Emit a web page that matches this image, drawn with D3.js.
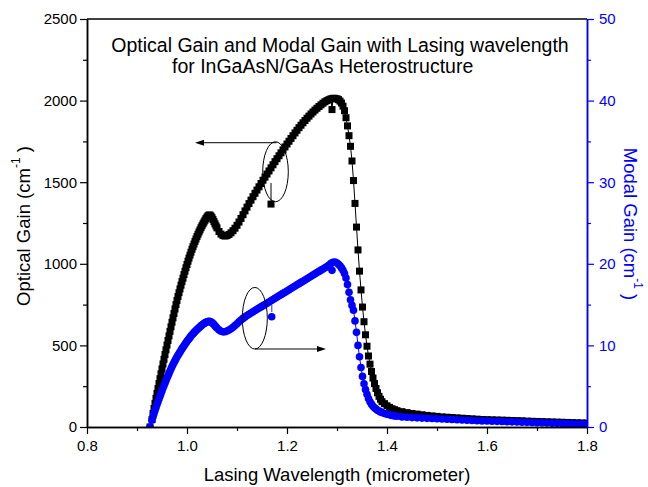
<!DOCTYPE html>
<html><head><meta charset="utf-8">
<script src="https://cdn.jsdelivr.net/npm/d3@7"></script>
<style>body{margin:0;background:#fff} svg{display:block} text{font-family:"Liberation Sans",Arial,sans-serif}</style>
</head><body><svg id="c" width="648" height="487"></svg>
<script>
// ---------------- data ----------------
const wavelength = [
0.926,0.930,0.932,0.934,0.936,0.938,0.940,0.942,0.944,0.946,0.948,0.950,0.952,0.954,0.956,0.958,0.960,0.962,0.964,0.966,0.968,0.970,0.972,0.974,0.976,0.978,0.980,0.982,0.984,0.986,0.988,0.990,0.992,0.994,0.996,0.998,1.000,1.002,1.004,1.006,1.008,1.010,1.012,1.014,1.016,1.018,1.020,1.022,1.024,1.026,1.028,1.030,1.032,1.034,1.036,1.038,1.040,1.042,1.044,1.046,1.048,1.050,1.052,1.054,1.056,1.058,1.060,
1.064,1.068,1.072,1.076,1.080,1.084,1.088,1.092,1.096,1.100,1.104,1.108,1.112,1.116,1.120,1.124,1.128,1.132,1.136,1.140,1.144,1.148,1.152,1.156,1.160,1.164,1.168,1.172,1.176,1.180,1.184,1.188,1.192,1.196,1.200,1.204,1.208,1.212,1.216,1.220,1.224,1.228,1.232,1.236,1.240,1.244,1.248,1.252,1.256,1.260,1.264,1.268,1.272,1.276,1.280,1.284,1.288,1.290,1.292,1.296,1.300,
1.303,1.306,1.309,1.312,1.315,1.318,1.321,1.324,1.327,1.330,1.333,1.336,1.339,1.342,1.345,1.348,1.351,1.354,1.357,1.360,1.363,1.366,1.369,1.372,1.375,1.378,1.381,1.384,1.387,1.390,
1.395,1.400,1.405,1.410,1.415,1.420,
1.43,1.44,1.45,1.46,1.47,1.48,1.49,1.50,1.51,1.52,1.53,1.54,1.55,1.56,1.57,1.58,1.59,1.60,1.61,1.62,1.63,1.64,1.65,1.66,1.67,1.68,1.69,1.70,1.71,1.72,1.73,1.74,1.75,1.76,1.77,1.78,1.79,1.80
];
const opticalGain = [
0,45,82,114,145,176,206,236,266,296,326,356,386,415,444,473,502,530,558,586,614,642,669,696,723,750,776,800,823,846,869,891,912,934,955,976,996,1016,1035,1053,1071,1089,1105,1121,1137,1152,1167,1181,1195,1208,1221,1233,1245,1256,1267,1277,1286,1294,1299,1298,1292,1283,1271,1258,1245,1232,1220,
1198,1182,1173,1170,1173,1180,1190,1203,1218,1236,1256,1278,1301,1324,1347,1369,1390,1411,1432,1452,1472,1492,1512,1531,1550,1569,1588,1607,1626,1644,1662,1680,1698,1716,1734,1751,1768,1785,1802,1818,1834,1849,1864,1878,1892,1905,1918,1930,1942,1953,1964,1974,1984,1993,2000,2006,2011,1945,2014,2014,2011,
2006,1997,1985,1966,1938,1895,1845,1785,1720,1630,1510,1370,1225,1085,955,840,735,645,565,495,435,385,340,300,266,236,210,188,170,155,
143,130,120,112,106,100,
94,88,83,79,75,71,68,65,62,60,58,56,54,52,50,48,46,45,44,43,42,41,40,39,38,36,35,34,33,32,31,30,29,28,27,26,25,24
];
const modalGain = [
0,0.85,1.25,1.65,2.02,2.39,2.75,3.10,3.44,3.78,4.12,4.45,4.77,5.08,5.39,5.70,6.00,6.29,6.57,6.85,7.13,7.40,7.65,7.89,8.13,8.37,8.60,8.80,9.00,9.20,9.40,9.60,9.78,9.96,10.14,10.32,10.50,10.66,10.82,10.98,11.14,11.30,11.43,11.56,11.69,11.82,11.95,12.06,12.17,12.28,12.39,12.50,12.59,12.68,12.76,12.83,12.89,12.93,12.95,12.93,12.87,12.79,12.68,12.55,12.40,12.25,12.12,
11.90,11.74,11.66,11.68,11.76,11.88,12.04,12.23,12.44,12.66,12.89,13.11,13.31,13.49,13.66,13.82,13.97,14.12,14.27,14.42,14.57,14.72,14.87,15.02,15.17,15.32,15.47,15.62,15.77,15.92,16.07,16.22,16.37,16.52,16.67,16.82,16.97,17.12,17.27,17.42,17.57,17.72,17.87,18.02,18.17,18.32,18.47,18.62,18.77,18.92,19.07,19.22,19.37,19.52,19.67,19.85,20.05,19.2,20.18,20.20,20.10,
19.95,19.75,19.5,19.2,18.8,18.25,17.45,16.5,15.6,14.9,14.3,13.0,11.6,10.0,8.6,7.3,6.2,5.3,4.6,4.0,3.5,3.1,2.8,2.55,2.35,2.2,2.05,1.95,1.85,1.77,
1.66,1.57,1.49,1.42,1.36,1.31,
1.24,1.19,1.15,1.12,1.09,1.06,1.04,1.01,0.98,0.95,0.92,0.89,0.86,0.83,0.80,0.77,0.75,0.73,0.71,0.69,0.67,0.65,0.63,0.61,0.59,0.57,0.55,0.53,0.51,0.49,0.47,0.45,0.43,0.41,0.39,0.37,0.35,0.33
];
const xTicks = [0.8,1.0,1.2,1.4,1.6,1.8];
const xMinorTicks = [0.9,1.1,1.3,1.5,1.7];
const leftTicks = [0,500,1000,1500,2000,2500];
const leftMinorTicks = [250,750,1250,1750,2250];
const rightTicks = [0,10,20,30,40,50];
const rightMinorTicks = [5,15,25,35,45];
const titleLines = ["Optical Gain and Modal Gain with Lasing wavelength","for InGaAsN/GaAs Heterostructure"];
const xLabel = "Lasing Wavelength (micrometer)";
const leftLabel = ["Optical Gain (cm","-1",")"];
const rightLabel = ["Modal Gain (cm","-1",")"];
// callouts (data coordinates: wavelength, left/right axis value)
const opticalCallout = {centre:[1.177,1564], arrowFrom:[1.179,1742], arrowTo:[1.016,1742], symbol:[1.168,1366], stemTop:1495};
const modalCallout = {centre:[1.1356,13.33], arrowFrom:[1.136,9.56], arrowTo:[1.278,9.56], symbol:[1.1694,13.52], stemTop:14.95, stemBottom:14.1};

// ---------------- drawing ----------------
const BLUE = "#0000ff";
const svg = d3.select("#c");
const L = 87, R = 587, T = 19, B = 427;
const x = d3.scaleLinear().domain([0.8,1.8]).range([L,R]);
const yL = d3.scaleLinear().domain([0,2500]).range([B,T]);
const yR = d3.scaleLinear().domain([0,50]).range([B,T]);

svg.append("rect").attr("width",648).attr("height",487).attr("fill","#fff");
svg.append("defs").append("clipPath").attr("id","plot")
  .append("rect").attr("x",L).attr("y",T).attr("width",R-L).attr("height",B-T);

const optical = wavelength.map((w,i)=>({w, v:opticalGain[i]}));
const modal = wavelength.map((w,i)=>({w, v:modalGain[i]}));

const gData = svg.append("g").attr("clip-path","url(#plot)");
gData.append("path").datum(optical)
  .attr("d", d3.line().x(d=>x(d.w)).y(d=>yL(d.v)))
  .attr("fill","none").attr("stroke","#000").attr("stroke-width",1);
gData.append("g").selectAll("rect").data(optical).join("rect")
  .attr("x",d=>x(d.w)-3.5).attr("y",d=>yL(d.v)-3.5).attr("width",7).attr("height",7).attr("fill","#000");
gData.append("path").datum(modal)
  .attr("d", d3.line().x(d=>x(d.w)).y(d=>yR(d.v)))
  .attr("fill","none").attr("stroke",BLUE).attr("stroke-width",1);
gData.append("g").selectAll("circle").data(modal).join("circle")
  .attr("cx",d=>x(d.w)).attr("cy",d=>yR(d.v)).attr("r",3.8).attr("fill",BLUE);

// callouts
function arrow(g, from, to, yScale){
  const x1=x(from[0]), y1=yScale(from[1]), x2=x(to[0]), y2=yScale(to[1]);
  const dir = Math.sign(x2-x1);
  g.append("line").attr("x1",x1).attr("y1",y1).attr("x2",x2-dir*6).attr("y2",y2)
    .attr("stroke","#000").attr("stroke-width",1);
  g.append("path").attr("d",`M${x2},${y2} L${x2-dir*9},${y2-3} L${x2-dir*9},${y2+3} Z`).attr("fill","#000");
}
const gAnn = svg.append("g");
gAnn.append("ellipse").attr("cx",x(opticalCallout.centre[0])).attr("cy",yL(opticalCallout.centre[1]))
  .attr("rx",12.8).attr("ry",30).attr("fill","none").attr("stroke","#000").attr("stroke-width",1);
arrow(gAnn, opticalCallout.arrowFrom, opticalCallout.arrowTo, yL);
gAnn.append("line").attr("x1",x(opticalCallout.symbol[0])).attr("x2",x(opticalCallout.symbol[0]))
  .attr("y1",yL(opticalCallout.stemTop)).attr("y2",yL(opticalCallout.symbol[1]))
  .attr("stroke","#000").attr("stroke-width",1);
gAnn.append("rect").attr("x",x(opticalCallout.symbol[0])-3.5).attr("y",yL(opticalCallout.symbol[1])-3.5)
  .attr("width",7).attr("height",7).attr("fill","#000");

gAnn.append("ellipse").attr("cx",x(modalCallout.centre[0])).attr("cy",yR(modalCallout.centre[1]))
  .attr("rx",12.5).attr("ry",30.8).attr("fill","none").attr("stroke","#000").attr("stroke-width",1);
arrow(gAnn, modalCallout.arrowFrom, modalCallout.arrowTo, yR);
gAnn.append("line").attr("x1",x(modalCallout.symbol[0])).attr("x2",x(modalCallout.symbol[0]))
  .attr("y1",yR(modalCallout.stemTop)).attr("y2",yR(modalCallout.stemBottom))
  .attr("stroke","#6b6bff").attr("stroke-width",1.5);
gAnn.append("circle").attr("cx",x(modalCallout.symbol[0])).attr("cy",yR(modalCallout.symbol[1]))
  .attr("r",3.8).attr("fill",BLUE);

// axes
function styleAxis(g, color, fs){
  g.select(".domain").attr("stroke",color).attr("stroke-width",1.5);
  g.selectAll(".tick line").attr("stroke",color).attr("stroke-width",1.2);
  g.selectAll(".tick text").attr("fill",color).attr("font-size",fs)
    .attr("font-family",'"Liberation Sans",Arial,sans-serif');
}
const gx = svg.append("g").attr("transform",`translate(0,${B})`)
  .call(d3.axisBottom(x).tickValues(xTicks).tickFormat(d3.format(".1f")).tickSize(7).tickSizeOuter(0).tickPadding(6));
styleAxis(gx,"#000",15);
const gxm = svg.append("g").attr("transform",`translate(0,${B})`)
  .call(d3.axisBottom(x).tickValues(xMinorTicks).tickFormat("").tickSize(4).tickSizeOuter(0));
styleAxis(gxm,"#000",15);

const gl = svg.append("g").attr("transform",`translate(${L},0)`)
  .call(d3.axisLeft(yL).tickValues(leftTicks).tickFormat(d3.format("d")).tickSize(7).tickSizeOuter(0).tickPadding(3));
styleAxis(gl,"#000",15);
const glm = svg.append("g").attr("transform",`translate(${L},0)`)
  .call(d3.axisLeft(yL).tickValues(leftMinorTicks).tickFormat("").tickSize(4).tickSizeOuter(0));
styleAxis(glm,"#000",15);

const gr = svg.append("g").attr("transform",`translate(${R},0)`)
  .call(d3.axisRight(yR).tickValues(rightTicks).tickFormat(d3.format("d")).tickSize(7).tickSizeOuter(0).tickPadding(5));
styleAxis(gr,BLUE,15);
const grm = svg.append("g").attr("transform",`translate(${R},0)`)
  .call(d3.axisRight(yR).tickValues(rightMinorTicks).tickFormat("").tickSize(4).tickSizeOuter(0));
styleAxis(grm,BLUE,15);

svg.append("line").attr("x1",L).attr("x2",R).attr("y1",T).attr("y2",T).attr("stroke","#000").attr("stroke-width",1.5);

// titles
svg.append("text").attr("x",340).attr("y",52).attr("text-anchor","middle").attr("font-size",19.5).text(titleLines[0]);
svg.append("text").attr("x",172).attr("y",73).attr("text-anchor","start").attr("font-size",19.5).text(titleLines[1]);

svg.append("text").attr("x",337).attr("y",481).attr("text-anchor","middle").attr("font-size",18.5).text(xLabel);

function supLabel(xp, yp, rot, parts, color){
  const t = svg.append("text").attr("transform",`translate(${xp},${yp}) rotate(${rot})`)
    .attr("text-anchor","middle").attr("dominant-baseline","central").attr("font-size",18.5).attr("fill",color);
  t.append("tspan").text(parts[0]);
  t.append("tspan").attr("font-size",12).attr("dy",-7).text(parts[1]);
  t.append("tspan").attr("dy",7).text(" "+parts[2]);
}
supLabel(23,226,-90,leftLabel,"#000");
supLabel(631,224,90,rightLabel,BLUE);
</script></body></html>
